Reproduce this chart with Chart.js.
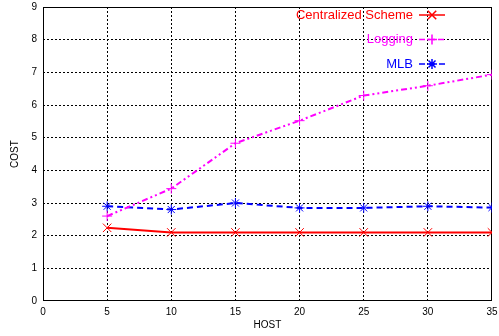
<!DOCTYPE html>
<html>
<head>
<meta charset="utf-8">
<script src="https://cdn.jsdelivr.net/npm/chart.js@4/dist/chart.umd.min.js"></script>
<style>
  html, body { margin: 0; padding: 0; background: #fff; }
  #wrap { width: 499px; height: 336px; }
</style>
</head>
<body>
<div id="wrap"><canvas id="costChart" width="499" height="336"></canvas></div>
<script>
// hosts on the x axis and cost per scheme
const hosts = [5, 10, 15, 20, 25, 30, 35];
const centralizedCost = [2.24, 2.1, 2.1, 2.1, 2.1, 2.1, 2.1];
const loggingCost = [2.6, 3.44, 4.83, 5.52, 6.29, 6.59, 6.93];
const mlbCost = [2.9, 2.8, 3.0, 2.85, 2.85, 2.9, 2.86];

const xTicks = [0, 5, 10, 15, 20, 25, 30, 35];
const yTicks = [0, 1, 2, 3, 4, 5, 6, 7, 8, 9];

const FONT = "'Liberation Sans', Arial, sans-serif";

function toPoints(ys) {
    return hosts.map((h, i) => ({ x: h, y: ys[i] }));
}

const series = [
    { label: "Centralized Scheme", data: centralizedCost, color: "#ff0000", dash: [], style: "crossRot", radius: 6 },
    { label: "Logging", data: loggingCost, color: "#ff00ff", dash: [6, 3, 2, 3, 2, 3], style: "cross", radius: 5 },
    { label: "MLB", data: mlbCost, color: "#0000ff", dash: [6, 4], style: "star", radius: 5 }
];

// gnuplot-like key in the top right corner and a solid frame
const framePlugin = {
    id: "frameAndKey",
    beforeDatasetsDraw(chart) {
        const { ctx, chartArea: a } = chart;
        ctx.save();
        ctx.strokeStyle = "#000";
        ctx.lineWidth = 1;
        ctx.strokeRect(a.left + 0.5, a.top + 0.5, a.right - a.left - 1, a.bottom - a.top - 1);
        ctx.restore();
    },
    afterDatasetsDraw(chart) {
        const { ctx } = chart;
        ctx.save();
        ctx.font = "13px " + FONT;
        ctx.textAlign = "right";
        ctx.textBaseline = "middle";
        series.forEach((s, i) => {
            const y = 15 + i * 24.5;
            ctx.fillStyle = s.color;
            ctx.fillText(s.label, 413, y);
            ctx.strokeStyle = s.color;
            ctx.lineWidth = 1.5;
            ctx.setLineDash(s.dash);
            ctx.beginPath();
            ctx.moveTo(419, y);
            ctx.lineTo(445, y);
            ctx.stroke();
            ctx.setLineDash([]);
            Chart.helpers.drawPoint(ctx, { pointStyle: s.style, radius: s.radius, borderWidth: 1 }, 432, y);
        });
        ctx.restore();
    }
};

function edgeHidden(ticks) {
    return ctx => {
        const v = ctx.tick ? ctx.tick.value : null;
        return (v === ticks[0] || v === ticks[ticks.length - 1]) ? "rgba(0,0,0,0)" : "#000";
    };
}

new Chart(document.getElementById("costChart").getContext("2d"), {
    type: "line",
    data: {
        datasets: series.map(s => ({
            label: s.label,
            data: toPoints(s.data),
            borderColor: s.color,
            backgroundColor: s.color,
            borderWidth: 2,
            borderDash: s.dash,
            pointStyle: s.style,
            pointRadius: s.radius,
            pointBorderWidth: 1,
            pointBorderColor: s.color,
            fill: false,
            tension: 0
        }))
    },
    options: {
        responsive: false,
        animation: false,
        layout: { padding: { top: 6, right: 6, left: 0, bottom: 0 } },
        plugins: {
            legend: { display: false },
            tooltip: { enabled: false },
            title: { display: false }
        },
        scales: {
            x: {
                type: "linear",
                min: xTicks[0],
                max: xTicks[xTicks.length - 1],
                afterBuildTicks: axis => { axis.ticks = xTicks.map(v => ({ value: v })); },
                afterFit: axis => { axis.height = 35; axis.paddingLeft = 0; axis.paddingRight = 0; },
                ticks: { color: "#000", font: { family: FONT, size: 10 }, padding: 5, maxRotation: 0 },
                grid: { color: edgeHidden(xTicks), tickLength: 0, lineWidth: 1 },
                border: { display: false, dash: [2, 2] },
                title: { display: true, text: "HOST", color: "#000", font: { family: FONT, size: 10 }, padding: { top: 0, bottom: 5 } }
            },
            y: {
                type: "linear",
                min: yTicks[0],
                max: yTicks[yTicks.length - 1],
                afterBuildTicks: axis => { axis.ticks = yTicks.map(v => ({ value: v })); },
                afterFit: axis => { axis.width = 43; axis.paddingTop = 0; axis.paddingBottom = 0; },
                ticks: { color: "#000", font: { family: FONT, size: 10 }, padding: 6 },
                grid: { color: edgeHidden(yTicks), tickLength: 0, lineWidth: 1 },
                border: { display: false, dash: [2, 2] },
                title: { display: true, text: "COST", color: "#000", font: { family: FONT, size: 10 }, padding: { top: 9, bottom: 0 } }
            }
        }
    },
    plugins: [framePlugin]
});
</script>
</body>
</html>
